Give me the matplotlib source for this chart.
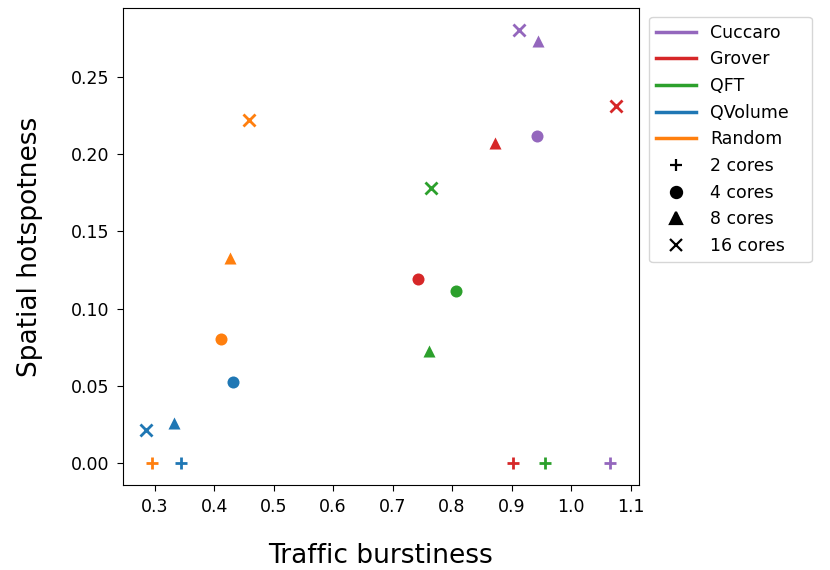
import matplotlib
matplotlib.use("Agg")
import matplotlib.pyplot as plt
from matplotlib.lines import Line2D

# circuits and their colours
circuits = ["Cuccaro", "Grover", "QFT", "QVolume", "Random"]
colors = ["tab:purple", "tab:red", "tab:green", "tab:blue", "tab:orange"]

# core counts and their markers
cores = [2, 4, 8, 16]
markers = ["+", "o", "^", "x"]

# traffic burstiness per circuit, in core order 2, 4, 8, 16
burstiness = {
    "Cuccaro": [1.066, 0.942, 0.944, 0.913],
    "Grover": [0.903, 0.742, 0.872, 1.075],
    "QFT": [0.956, 0.807, 0.762, 0.765],
    "QVolume": [0.344, 0.431, 0.332, 0.286],
    "Random": [0.295, 0.411, 0.426, 0.458],
}

# spatial hotspotness per circuit, in core order 2, 4, 8, 16
hotspotness = {
    "Cuccaro": [0.0, 0.212, 0.273, 0.2805],
    "Grover": [0.0, 0.119, 0.207, 0.231],
    "QFT": [0.0, 0.1115, 0.0725, 0.178],
    "QVolume": [0.0, 0.0524, 0.0261, 0.0218],
    "Random": [0.0, 0.0807, 0.1327, 0.2218],
}

fig = plt.figure(figsize=(8.3, 5.7), dpi=100)
ax = fig.add_axes([0.148, 0.149, 0.622, 0.837])

for name, color in zip(circuits, colors):
    for i, marker in enumerate(markers):
        ax.scatter(burstiness[name][i], hotspotness[name][i], marker=marker,
                   color=color, s=75, linewidths=2 if marker in "+x" else 0)

ax.set_xlabel("Traffic burstiness", fontsize=19, labelpad=19)
ax.set_ylabel("Spatial hotspotness", fontsize=19, labelpad=20)
ax.tick_params(labelsize=12.5, length=4.5, pad=5)
ax.set_xticks([0.3, 0.4, 0.5, 0.6, 0.7, 0.8, 0.9, 1.0, 1.1])

handles = [Line2D([], [], color=c, linewidth=2.5, label=n) for n, c in zip(circuits, colors)]
handles += [Line2D([], [], color="black", marker=m, linestyle="none", markersize=8,
                   markeredgewidth=1.6, label=f"{c} cores") for c, m in zip(cores, markers)]
ax.legend(handles=handles, loc="upper left", mode="expand", fontsize=12.5, handlelength=2.3,
          bbox_to_anchor=(640.5 / 830, 0.0, 180 / 830, 0.986), bbox_transform=fig.transFigure)

fig.savefig("out.png", dpi=100)
